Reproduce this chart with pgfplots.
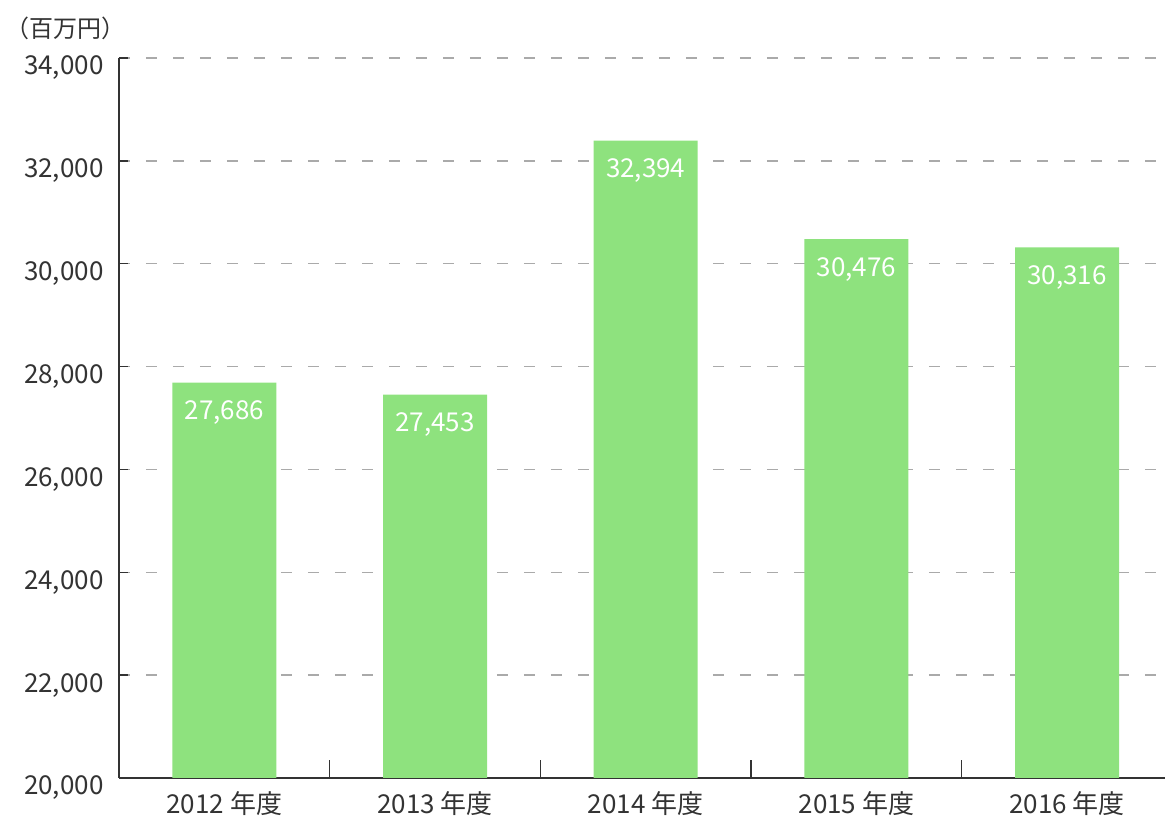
\documentclass[border=0pt]{standalone}
\usepackage{fontspec}
\setmainfont{Noto Sans CJK JP}
\usepackage{pgfplots}
\pgfplotsset{compat=1.18}
\definecolor{barg}{RGB}{142,226,126}
\definecolor{txt}{RGB}{51,51,51}
\definecolor{gridc}{RGB}{170,170,170}
\begin{document}
\begin{tikzpicture}
\begin{axis}[
  name=ax,
  scale only axis,
  width=1046pt, height=720pt,
  xmin=-0.5, xmax=4.465,
  ymin=20000, ymax=34000,
  ytick={20000,22000,...,34000},
  scaled y ticks=false,
  yticklabel={\pgfmathprintnumber[fixed, precision=0, 1000 sep={,}]{\tick}},
  xtick={0,1,2,3,4},
  xticklabels={2012 年度,2013 年度,2014 年度,2015 年度,2016 年度},
  minor xtick={0.5,1.5,2.5,3.5},
  axis lines*=left,
  xtick pos=bottom, ytick pos=left,
  axis line style={txt, line width=1.4pt, -},
  xtick align=inside, ytick align=inside,
  major tick length=9pt,
  minor tick length=18pt,
  major x tick style={draw=none},
  minor x tick style={txt, line width=1.2pt, yshift=18pt},
  major y tick style={txt, line width=1.4pt},
  ymajorgrids,
  major grid style={gridc, line width=1.5pt, dash pattern=on 11pt off 16pt},
  /pgf/number format/.cd, 1000 sep={,}, assume math mode=true,
  /pgfplots/.cd,
  ticklabel style={font=\fontsize{26}{30}\selectfont, text=txt},
  yticklabel style={anchor=east, xshift=-12pt, yshift=-10pt},
  xticklabel style={anchor=center, yshift=-17pt},
  ybar, bar width=104pt,
  nodes near coords,
  every node near coord/.append style={anchor=center, yshift=-30pt, text=white, font=\fontsize{26}{30}\selectfont},
]
\addplot[fill=barg, draw=none] coordinates {(0,27686) (1,27453) (2,32394) (3,30476) (4,30316)};
\end{axis}
\node[anchor=west, text=txt, font=\fontsize{24}{28}\selectfont, inner sep=0pt] at ([xshift=-114pt, yshift=30pt]ax.north west) {（百万円）};
\pgfresetboundingbox
\path ([xshift=-119pt, yshift=-43pt]ax.south west) rectangle ([yshift=58pt]ax.north east);
\end{tikzpicture}
\end{document}
